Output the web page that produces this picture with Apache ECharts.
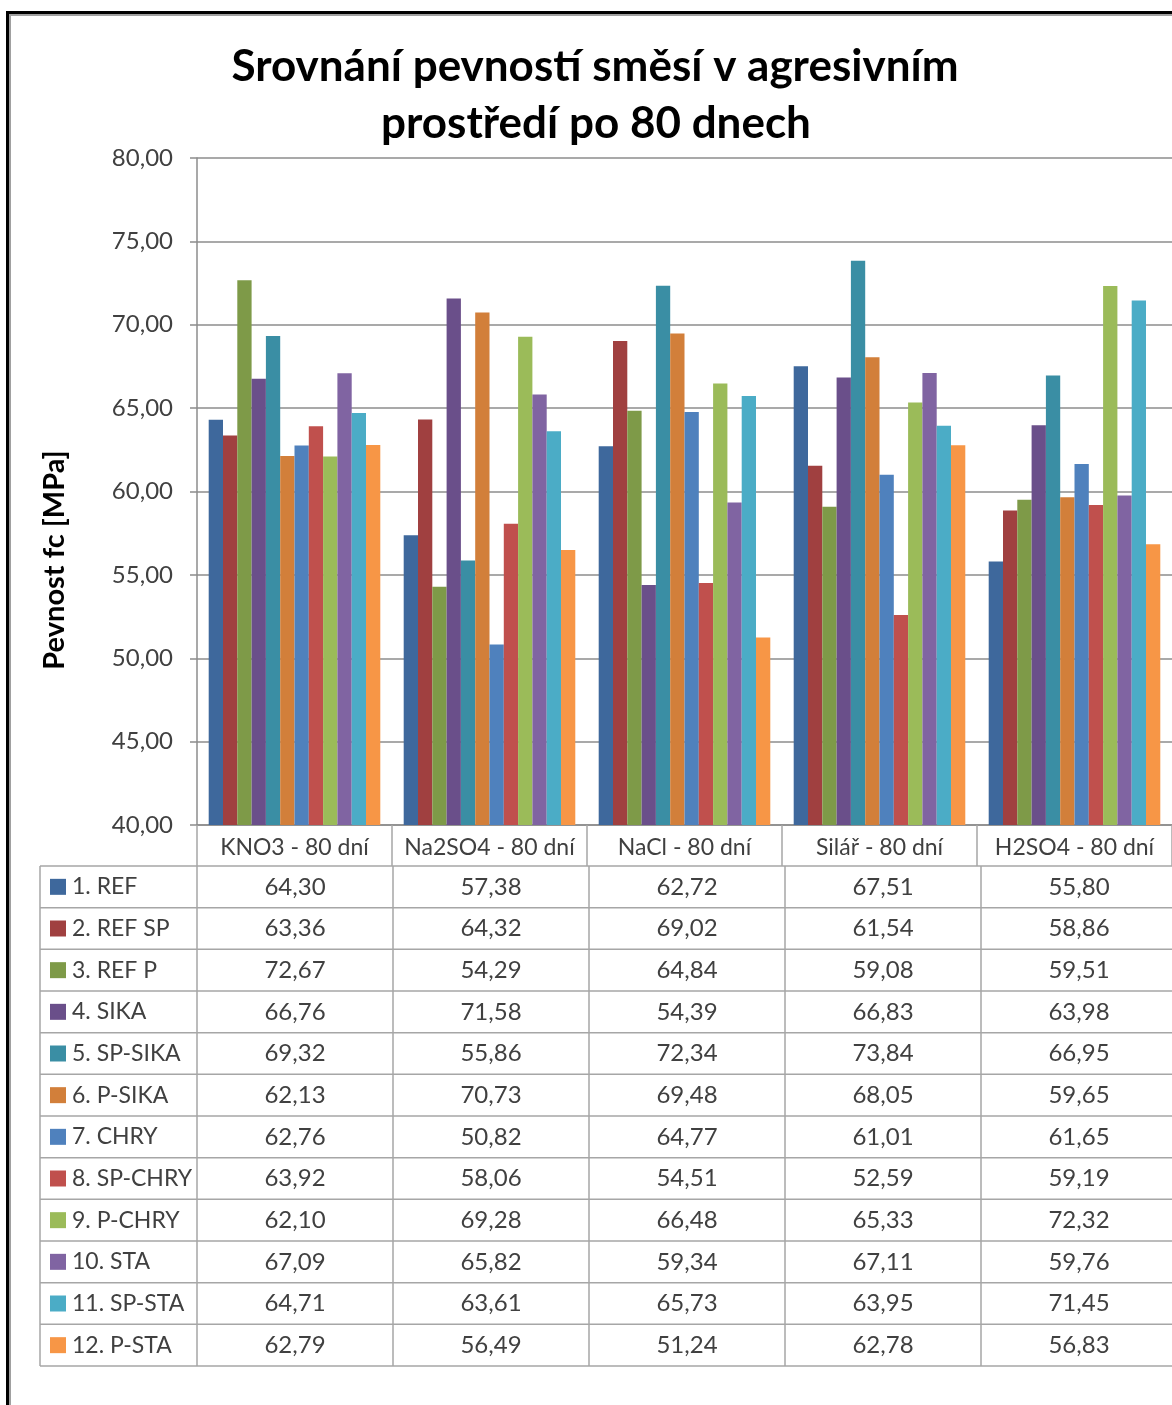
<!DOCTYPE html>
<html>
<head>
<meta charset="utf-8">
<script src="https://cdn.jsdelivr.net/npm/echarts@6/dist/echarts.min.js"></script>
<style>
  html, body { margin: 0; padding: 0; background: #fff; }
  #main { width: 1172px; height: 1405px; }
</style>
</head>
<body>
<div id="main"></div>
<script>
// data
var categories = ['KNO3 - 80 dní', 'Na2SO4 - 80 dní', 'NaCl - 80 dní', 'Silář - 80 dní', 'H2SO4 - 80 dní'];
var seriesNames = ['1. REF', '2. REF SP', '3. REF P', '4. SIKA', '5. SP-SIKA', '6. P-SIKA',
                   '7. CHRY', '8. SP-CHRY', '9. P-CHRY', '10. STA', '11. SP-STA', '12. P-STA'];
var ref     = [64.30, 57.38, 62.72, 67.51, 55.80];
var refSp   = [63.36, 64.32, 69.02, 61.54, 58.86];
var refP    = [72.67, 54.29, 64.84, 59.08, 59.51];
var sika    = [66.76, 71.58, 54.39, 66.83, 63.98];
var spSika  = [69.32, 55.86, 72.34, 73.84, 66.95];
var pSika   = [62.13, 70.73, 69.48, 68.05, 59.65];
var chry    = [62.76, 50.82, 64.77, 61.01, 61.65];
var spChry  = [63.92, 58.06, 54.51, 52.59, 59.19];
var pChry   = [62.10, 69.28, 66.48, 65.33, 72.32];
var sta     = [67.09, 65.82, 59.34, 67.11, 59.76];
var spSta   = [64.71, 63.61, 65.73, 63.95, 71.45];
var pSta    = [62.79, 56.49, 51.24, 62.78, 56.83];
var allValues = [ref, refSp, refP, sika, spSika, pSika, chry, spChry, pChry, sta, spSta, pSta];

var colors = ['#3e689c', '#a04040', '#7e9a48', '#6a4f8a', '#3a8ea4', '#d27f3a',
              '#4f81bd', '#c0504d', '#9bbb59', '#8064a2', '#4bacc6', '#f79646'];

var FONT = 'Lato, "Open Sans", sans-serif';
var gridLeft = 197, gridTop = 158, axisY = 825, plotRight = 1177;
var colW = (plotRight - gridLeft) / categories.length;
var headerH = 41, rowH = (1366 - 866) / 12;
var tableTop = axisY + headerH, tableLeft = 40;
var lineCol = '#a6a6a6';

function fmt(v) { return v.toFixed(2).replace('.', ','); }

var myChart = echarts.init(document.getElementById('main'));

// table drawn below the plot
var table = [];
for (var r = 0; r <= seriesNames.length; r++) {
    table.push({ type: 'line', shape: { x1: tableLeft, y1: tableTop + r * rowH, x2: plotRight, y2: tableTop + r * rowH },
        style: { stroke: lineCol, lineWidth: 1.5 } });
}
table.push({ type: 'line', shape: { x1: tableLeft, y1: tableTop, x2: tableLeft, y2: tableTop + 12 * rowH },
    style: { stroke: lineCol, lineWidth: 1.5 } });
for (var c = 0; c <= categories.length; c++) {
    table.push({ type: 'line', shape: { x1: gridLeft + c * colW, y1: tableTop, x2: gridLeft + c * colW, y2: tableTop + 12 * rowH },
        style: { stroke: lineCol, lineWidth: 1.5 } });
}
seriesNames.forEach(function (name, i) {
    var cy = tableTop + i * rowH + rowH / 2;
    table.push({ type: 'rect', shape: { x: 50, y: cy - 8, width: 16, height: 16 }, style: { fill: colors[i] } });
    table.push({ type: 'text', x: 72, y: cy, style: { text: name, font: '23px ' + FONT, fill: '#404040', verticalAlign: 'middle' } });
    allValues[i].forEach(function (v, j) {
        table.push({ type: 'text', x: gridLeft + j * colW + colW / 2, y: cy,
            style: { text: fmt(v), font: '24px ' + FONT, fill: '#404040', align: 'center', verticalAlign: 'middle' } });
    });
});

var option = {
    animation: false,
    backgroundColor: '#fff',
    color: colors,
    grid: { left: gridLeft, top: gridTop, right: 1172 - plotRight, bottom: 1405 - axisY },
    xAxis: {
        type: 'category',
        data: categories,
        axisLine: { lineStyle: { color: '#8c8c8c', width: 1.5 } },
        axisTick: { show: true, interval: 0, length: headerH, lineStyle: { color: lineCol, width: 1.5 } },
        axisLabel: { interval: 0, fontFamily: FONT, fontSize: 23, color: '#404040', margin: 11 }
    },
    yAxis: {
        type: 'value',
        min: 40, max: 80, interval: 5,
        axisLine: { show: true, lineStyle: { color: '#8c8c8c', width: 1.5 } },
        axisTick: { show: true, length: 7, lineStyle: { color: '#8c8c8c', width: 1.5 } },
        splitLine: { lineStyle: { color: '#8c8c8c', width: 1.5 } },
        axisLabel: { fontFamily: FONT, fontSize: 24, color: '#404040', margin: 24,
            formatter: function (v) { return fmt(v); } }
    },
    series: allValues.map(function (vals, i) {
        return { name: seriesNames[i], type: 'bar', data: vals, barGap: '0%', barCategoryGap: '12%',
            itemStyle: { color: colors[i] } };
    }),
    graphic: [
        // outer frame
        { type: 'rect', shape: { x: 6, y: 11, width: 1200, height: 3 }, style: { fill: '#000' } },
        { type: 'rect', shape: { x: 6, y: 11, width: 3, height: 1400 }, style: { fill: '#000' } },
        { type: 'rect', shape: { x: 9, y: 14, width: 1200, height: 2 }, style: { fill: '#a0a0a0' } },
        { type: 'rect', shape: { x: 9, y: 14, width: 2, height: 1400 }, style: { fill: '#a0a0a0' } },
        { type: 'text', x: 595, y: 67, style: { text: 'Srovnání pevností směsí v agresivním', font: 'bold 44px ' + FONT,
            fill: '#000', align: 'center', verticalAlign: 'middle' } },
        { type: 'text', x: 596, y: 124, style: { text: 'prostředí po 80 dnech', font: 'bold 44px ' + FONT,
            fill: '#000', align: 'center', verticalAlign: 'middle' } },
        { type: 'text', x: 55, y: 560, rotation: Math.PI / 2, style: { text: 'Pevnost fc [MPa]', font: 'bold 29px ' + FONT,
            fill: '#000', align: 'center', verticalAlign: 'middle' } },
        { type: 'group', children: table }
    ]
};

myChart.setOption(option);
</script>
</body>
</html>
